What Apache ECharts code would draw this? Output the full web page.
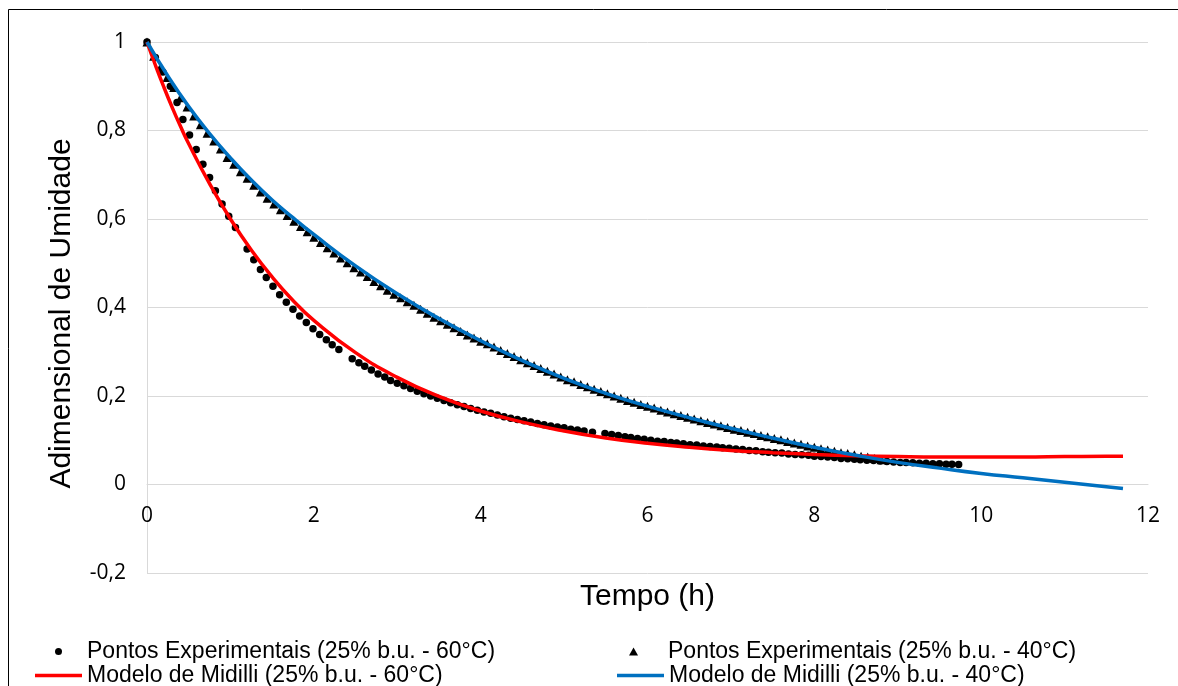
<!DOCTYPE html>
<html>
<head>
<meta charset="utf-8">
<script src="https://cdn.jsdelivr.net/npm/echarts@6/dist/echarts.min.js"></script>
<style>
  html, body { margin: 0; padding: 0; background: #fff; }
  #chart { width: 1178px; height: 686px; }
</style>
</head>
<body>
<div id="chart"></div>
<script>
// pontos experimentais 60°C (tempo h / adimensional)
const t60 = [0, 0.10, 0.19, 0.28, 0.36, 0.43, 0.51, 0.59, 0.67, 0.75, 0.82, 0.90, 0.98, 1.06,
  1.20, 1.28, 1.36, 1.43, 1.51, 1.59, 1.67, 1.75, 1.83, 1.91, 1.99, 2.07, 2.15, 2.22, 2.30,
  2.46, 2.54, 2.61, 2.69, 2.77, 2.85, 2.92, 3.00, 3.08, 3.16, 3.24, 3.32, 3.40, 3.48, 3.56,
  3.64, 3.72, 3.80, 3.88, 3.96, 4.04, 4.12, 4.20, 4.28, 4.36, 4.44, 4.52, 4.60, 4.68, 4.76,
  4.84, 4.92, 5.00, 5.08, 5.16, 5.24, 5.34,
  5.49, 5.57, 5.65, 5.73, 5.80, 5.88, 5.96, 6.04, 6.12, 6.20, 6.28, 6.35, 6.43, 6.51, 6.59,
  6.67, 6.75, 6.83, 6.90, 6.98, 7.06, 7.14, 7.22, 7.30, 7.38, 7.45, 7.53, 7.61, 7.69, 7.77,
  7.85, 7.93, 8.00, 8.08, 8.16, 8.24, 8.32, 8.40, 8.48, 8.55, 8.63, 8.71, 8.79, 8.87, 8.95,
  9.03, 9.10, 9.18, 9.26, 9.34, 9.42, 9.50, 9.58, 9.65, 9.73];
const v60 = [1.000, 0.965, 0.932, 0.900, 0.863, 0.825, 0.790, 0.757, 0.724, 0.694, 0.664, 0.634, 0.606, 0.581,
  0.532, 0.508, 0.486, 0.468, 0.448, 0.429, 0.412, 0.396, 0.381, 0.366, 0.352, 0.339, 0.327, 0.316, 0.305,
  0.284, 0.275, 0.267, 0.259, 0.250, 0.243, 0.235, 0.229, 0.223, 0.217, 0.211, 0.205, 0.200, 0.195, 0.190,
  0.185, 0.180, 0.176, 0.172, 0.168, 0.164, 0.161, 0.157, 0.153, 0.150, 0.147, 0.144, 0.141, 0.138, 0.135,
  0.132, 0.130, 0.128, 0.125, 0.123, 0.121, 0.118,
  0.115, 0.113, 0.111, 0.108, 0.106, 0.104, 0.102, 0.100, 0.098, 0.097, 0.095, 0.094, 0.092, 0.090, 0.089,
  0.087, 0.086, 0.085, 0.083, 0.082, 0.080, 0.079, 0.077, 0.076, 0.074, 0.073, 0.072, 0.071, 0.069, 0.068,
  0.067, 0.066, 0.064, 0.063, 0.062, 0.061, 0.059, 0.058, 0.057, 0.056, 0.055, 0.054, 0.053, 0.052, 0.051,
  0.050, 0.050, 0.049, 0.048, 0.048, 0.047, 0.047, 0.046, 0.046, 0.045];

// pontos experimentais 40°C
const t40 = [0, 0.08, 0.16, 0.24, 0.32, 0.40, 0.48, 0.56, 0.64, 0.72, 0.80, 0.88, 0.96, 1.04, 1.12,
  1.20, 1.28, 1.36, 1.44, 1.52, 1.60, 1.68, 1.76, 1.84, 1.92, 2.00, 2.08, 2.16, 2.24, 2.32,
  2.40, 2.48, 2.56, 2.64, 2.72, 2.80, 2.88, 2.96, 3.04, 3.12, 3.20, 3.28, 3.36, 3.44, 3.52,
  3.60, 3.68, 3.76, 3.84, 3.92, 4.00, 4.08, 4.16, 4.24, 4.32, 4.40, 4.48, 4.56, 4.64, 4.72,
  4.80, 4.88, 4.96, 5.04, 5.12, 5.20, 5.28, 5.36, 5.44, 5.52, 5.60, 5.68, 5.76, 5.84, 5.92,
  6.00, 6.08, 6.16, 6.24, 6.32, 6.40, 6.48, 6.56, 6.64, 6.72, 6.80, 6.88, 6.96, 7.04, 7.12,
  7.20, 7.28, 7.36, 7.44, 7.52, 7.60, 7.68, 7.76, 7.84, 7.92, 8.00, 8.08, 8.16, 8.24, 8.32,
  8.40, 8.48, 8.56, 8.64, 8.72, 8.80];
const v40 = [1.000, 0.968, 0.943, 0.920, 0.897, 0.874, 0.853, 0.833, 0.813, 0.794, 0.776, 0.758, 0.739, 0.724, 0.707,
  0.692, 0.676, 0.661, 0.647, 0.634, 0.621, 0.608, 0.595, 0.583, 0.571, 0.559, 0.547, 0.535, 0.523, 0.512,
  0.501, 0.490, 0.480, 0.470, 0.459, 0.449, 0.439, 0.430, 0.422, 0.413, 0.405, 0.396, 0.387, 0.378, 0.370,
  0.362, 0.354, 0.346, 0.338, 0.331, 0.324, 0.318, 0.311, 0.303, 0.296, 0.289, 0.282, 0.275, 0.269, 0.262,
  0.256, 0.250, 0.243, 0.237, 0.232, 0.226, 0.221, 0.215, 0.210, 0.205, 0.200, 0.195, 0.190, 0.186, 0.181,
  0.177, 0.173, 0.168, 0.164, 0.160, 0.156, 0.152, 0.148, 0.144, 0.140, 0.137, 0.133, 0.129, 0.125, 0.122,
  0.118, 0.115, 0.111, 0.108, 0.104, 0.101, 0.097, 0.094, 0.091, 0.087, 0.084, 0.081, 0.078, 0.075, 0.072,
  0.070, 0.067, 0.064, 0.062, 0.059, 0.056];

// modelo de Midilli, 60°C
const tM60 = [0, 0.1, 0.2, 0.3, 0.4, 0.5, 0.75, 1.0, 1.25, 1.5, 1.75, 2.0, 2.5, 3.0, 3.5, 4.0, 4.5,
  5.0, 5.5, 6.0, 6.5, 7.0, 7.5, 8.0, 8.5, 9.0, 9.5, 10.0, 10.5, 11.0, 11.5, 11.7];
const vM60 = [1.000, 0.948, 0.899, 0.853, 0.810, 0.770, 0.680, 0.600, 0.530, 0.469, 0.416, 0.371, 0.298,
  0.242, 0.199, 0.166, 0.141, 0.121, 0.105, 0.093, 0.084, 0.077, 0.072, 0.068, 0.065, 0.063, 0.062,
  0.062, 0.062, 0.063, 0.064, 0.064];

// modelo de Midilli, 40°C
const tM40 = [0, 0.25, 0.5, 0.75, 1.0, 1.25, 1.5, 1.75, 2.0, 2.5, 3.0, 3.5, 4.0, 4.5, 5.0, 5.5, 6.0,
  6.5, 7.0, 7.5, 8.0, 8.5, 9.0, 9.5, 10.0, 10.5, 11.0, 11.5, 11.7];
const vM40 = [1.000, 0.923, 0.854, 0.793, 0.738, 0.688, 0.643, 0.603, 0.565, 0.494, 0.431, 0.375, 0.325,
  0.280, 0.240, 0.206, 0.177, 0.151, 0.127, 0.105, 0.084, 0.066, 0.050, 0.037, 0.025, 0.015, 0.005,
  -0.005, -0.009];

const names = [
  'Pontos Experimentais (25% b.u. - 60°C)',
  'Pontos Experimentais (25% b.u. - 40°C)',
  'Modelo de Midilli (25% b.u. - 60°C)',
  'Modelo de Midilli (25% b.u. - 40°C)'
];

const zip = (a, b) => a.map((x, i) => [x, b[i]]);
const gray = '#d9d9d9';
const tickFont = { fontFamily: 'Open Sans', fontSize: 21, color: '#000' };
const legText = { fontFamily: 'Liberation Sans', fontSize: 23, lineHeight: 23, color: '#000' };

function leg(name, left, top, w, h, padLeft, icon) {
  return {
    data: [name], left: left, top: top, itemWidth: w, itemHeight: h, icon: icon,
    selectedMode: false, padding: 0,
    textStyle: Object.assign({ padding: [0, 0, 0, padLeft] }, legText)
  };
}

// eixo x cruza o y em 0: grade de 42 a 573 px, -0,2..1 -> 0 fica 88.5 px acima da base
const gridTop = 42, gridBottom = 113, yMin = -0.2, yMax = 1;
const plotH = 686 - gridTop - gridBottom;
const zeroShift = plotH * (0 - yMin) / (yMax - yMin);

const chart = echarts.init(document.getElementById('chart'));
chart.setOption({
  animation: false,
  backgroundColor: '#fff',
  grid: { left: 147, right: 30, top: gridTop, bottom: gridBottom, outerBoundsMode: 'none', containLabel: false },
  xAxis: {
    type: 'value', min: 0, max: 12, interval: 2,
    offset: -zeroShift,
    axisLine: { onZero: false, lineStyle: { color: gray, width: 1 } },
    axisTick: { show: false },
    splitLine: { show: false },
    axisLabel: Object.assign({ margin: 21 }, tickFont),
    name: 'Tempo (h)', nameLocation: 'middle', nameGap: 97,
    nameTextStyle: { fontFamily: 'Liberation Sans', fontSize: 30, color: '#000' }
  },
  yAxis: {
    type: 'value', min: yMin, max: yMax, interval: 0.2,
    axisLine: { show: true, onZero: false, lineStyle: { color: gray, width: 1 } },
    axisTick: { show: false },
    splitLine: { lineStyle: { color: gray, width: 1 } },
    axisLabel: Object.assign({
      margin: 21,
      formatter: v => String(+v.toFixed(1)).replace('.', ',')
    }, tickFont),
    name: 'Adimensional de Umidade', nameLocation: 'middle', nameGap: 70,
    nameTextStyle: { fontFamily: 'Liberation Sans', fontSize: 30, color: '#000', padding: [0, 12, 0, 0] }
  },
  legend: [
    leg(names[0], 55, 640, 7, 7, 20, 'circle'),
    leg(names[2], 35, 664, 47, 3.5, 0, 'rect'),
    leg(names[1], 629, 640, 9, 8, 25, 'triangle'),
    leg(names[3], 617, 664, 47, 3.5, 0, 'rect')
  ],
  graphic: [{
    type: 'rect', silent: true, z: -1,
    shape: { x: 8.5, y: 9.5, width: 1300, height: 800 },
    style: { fill: 'none', stroke: '#000', lineWidth: 1 }
  }],
  series: [
    {
      name: names[0], type: 'scatter', data: zip(t60, v60),
      symbol: 'circle', symbolSize: 7.5, itemStyle: { color: '#000', opacity: 1 }
    },
    {
      name: names[1], type: 'scatter', data: zip(t40, v40),
      symbol: 'triangle', symbolSize: 9, itemStyle: { color: '#000', opacity: 1 }
    },
    {
      name: names[2], type: 'line', data: zip(tM60, vM60), smooth: 0.5,
      symbol: 'none', lineStyle: { color: '#ff0000', width: 3.5 }, itemStyle: { color: '#ff0000' }
    },
    {
      name: names[3], type: 'line', data: zip(tM40, vM40), smooth: 0.5,
      symbol: 'none', lineStyle: { color: '#0070c0', width: 3.5 }, itemStyle: { color: '#0070c0' }
    }
  ]
});
</script>
</body>
</html>
